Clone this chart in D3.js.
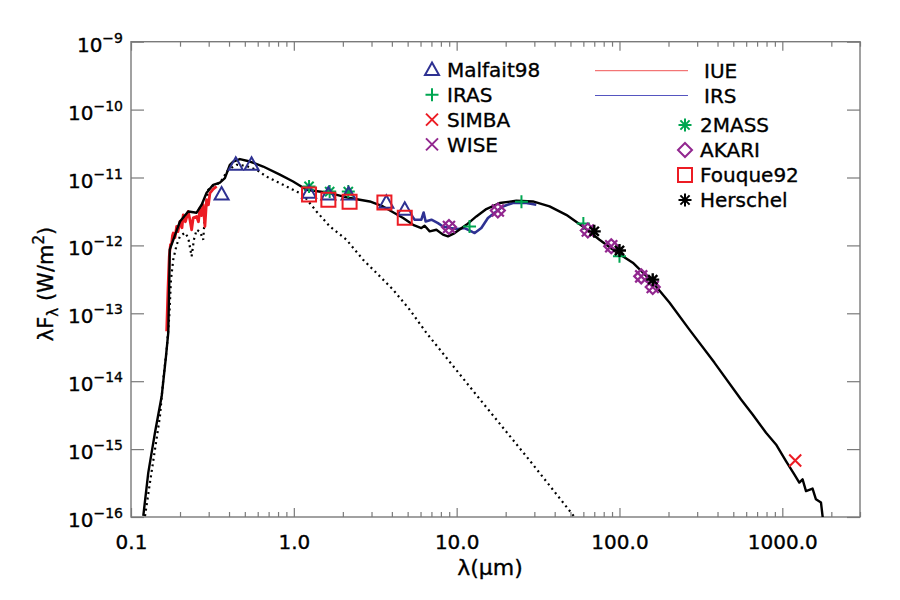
<!DOCTYPE html>
<html><head><meta charset="utf-8">
<script src="https://cdn.jsdelivr.net/npm/d3@7"></script>
<style>body{margin:0;background:#fff} svg{display:block} text{font-family:"DejaVu Sans",sans-serif;fill:#000;stroke:#000;stroke-width:0.35px}</style>
</head><body><svg id="c" width="900" height="600"></svg>
<script>
// ---- data ----
const modelWave = [0.119,0.1277,0.1404,0.1543,0.164,0.1694,0.1718,0.173,0.1998,0.2246,0.2529,0.2716,0.2913,0.3197,0.3516,0.3773,0.405,0.4242,0.4664,0.537,0.648,0.821,0.99,1.197,1.664,2.206,2.926,3.53,4.69,5.40,6.07,6.36,6.83,7.51,8.24,8.84,9.72,11.47,13.21,15.21,18.36,23.25,29.38,37.2,47.1,59.6,75.4,95.4,120.7,158.7,202.6,268.8,382.6,557.9,657.4,794.3,914.8,1053.6,1184.7,1271.4,1332,1398,1534,1609,1728,1767,1800];
const modelFlux = [1.04e-16,4.5e-16,1.76e-15,6.0e-15,2.33e-14,5.2e-14,2.82e-13,8.65e-13,2.25e-12,3.16e-12,3.03e-12,3.97e-12,5.96e-12,7.8e-12,8.43e-12,9.8e-12,1.54e-11,1.72e-11,1.87e-11,1.72e-11,1.45e-11,1.1e-11,8.73e-12,6.59e-12,5.9e-12,4.98e-12,4.44e-12,3.75e-12,2.53e-12,2.01e-12,1.8e-12,1.95e-12,1.61e-12,1.70e-12,1.44e-12,1.36e-12,1.52e-12,2.01e-12,2.67e-12,3.43e-12,4.21e-12,4.54e-12,4.44e-12,3.75e-12,2.82e-12,1.9e-12,1.21e-12,8.0e-13,5.57e-13,2.92e-13,1.44e-13,5.75e-14,1.88e-14,5.38e-15,3.24e-15,1.74e-15,1.17e-15,6.67e-16,4.25e-16,3.21e-16,3.58e-16,2.41e-16,2.62e-16,1.82e-16,1.63e-16,1.03e-16,6.6e-17];

const starWave = [0.1219,0.1308,0.1404,0.1506,0.1578,0.1656,0.1718,0.176,0.1817,0.1907,0.1998,0.2144,0.2246,0.2357,0.2434,0.2529,0.2651,0.2777,0.2844,0.298,0.323,0.3516,0.3953,0.445,0.5075,0.590,0.68,0.86,1.14,1.378,1.664,2.105,2.662,3.217,4.067,5.148,6.52,13.84,28.05,52.45];
const starFlux = [1.03e-16,3.24e-16,9.9e-16,3.05e-15,1.06e-14,2.92e-14,9.04e-14,3.13e-13,6.16e-13,1.02e-12,1.36e-12,1.54e-12,1.3e-12,6.9e-13,1.21e-12,1.70e-12,1.59e-12,1.21e-12,2.82e-12,6.59e-12,7.8e-12,8.27e-12,1.3e-11,1.54e-11,1.49e-11,1.3e-11,1.03e-11,7.8e-12,5.57e-12,3.16e-12,1.9e-12,1.21e-12,6.16e-13,3.93e-13,2.23e-13,1.13e-13,5.15e-14,5.47e-15,6.83e-16,1.03e-16];

const iueWave = [0.1656,0.1687,0.1718,0.1747,0.1777,0.1797,0.1817,0.1862,0.1907,0.1942,0.1998,0.2056,0.2094,0.216,0.2246,0.2301,0.2357,0.2411,0.2529,0.2595,0.2651,0.2707,0.2777,0.2844,0.2913,0.2989,0.3053,0.3197,0.3356];
const iueFlux = [5.43e-14,2.23e-13,6.89e-13,1.02e-12,1.08e-12,1.39e-12,1.52e-12,1.30e-12,1.9e-12,1.59e-12,2.25e-12,1.82e-12,2.82e-12,2.23e-12,3.16e-12,2.39e-12,1.70e-12,2.55e-12,2.67e-12,2.23e-12,3.55e-12,2.74e-12,3.97e-12,1.9e-12,4.7e-12,3.97e-12,5.9e-12,6.75e-12,7.38e-12];

const irsWave = [5.30,5.525,6.07,6.27,6.45,7.0,7.68,8.24,9.06,10.19,11.19,12.31,12.9,14.18,15.56,17.52,19.23,22.15,26.77,30.83];
const irsFlux = [2.74e-12,2.39e-12,2.39e-12,3.05e-12,2.25e-12,2.39e-12,2.13e-12,1.9e-12,1.8e-12,1.74e-12,1.8e-12,1.61e-12,1.52e-12,1.8e-12,2.53e-12,3.16e-12,3.75e-12,4.21e-12,4.21e-12,3.97e-12];

const malfaitWave = [0.36,0.44,0.55,1.24,1.63,2.17,3.7,4.8];
const malfaitFlux = [5.6e-12,1.54e-11,1.54e-11,5.96e-12,5.6e-12,5.6e-12,4.25e-12,3.35e-12];
const irasWave = [12,25,60,100];
const irasFlux = [1.9e-12,4.4e-12,2.1e-12,6.9e-13];
const simbaWave = [1200];
const simbaFlux = [6.8e-16];
const wiseWave = [8.97,17.9,63.9,89,136,160];
const wiseFlux = [1.87e-12,3.27e-12,1.66e-12,9.7e-13,3.5e-13,2.44e-13];
const akariWave = [8.97,17.9,63.9,89,136,160];
const akariFlux = [1.87e-12,3.27e-12,1.66e-12,9.7e-13,3.5e-13,2.44e-13];
const twomassWave = [1.24,1.66,2.16];
const twomassFlux = [7.4e-12,6.2e-12,6.2e-12];
const fouqueWave = [1.24,1.63,2.2,3.6,4.8];
const fouqueFlux = [5.6e-12,4.7e-12,4.4e-12,4.3e-12,2.55e-12];
const herschelWave = [70,100,160];
const herschelFlux = [1.61e-12,8.4e-13,3.13e-13];

const xMajorTicks = [0.1,1,10,100,1000];
const xTickLabels = ["0.1","1.0","10.0","100.0","1000.0"];
const yExponents = [-9,-10,-11,-12,-13,-14,-15,-16];
const legendLeft = ["Malfait98","IRAS","SIMBA","WISE"];
const legendLines = ["IUE","IRS"];
const legendRight = ["2MASS","AKARI","Fouque92","Herschel"];

// ---- styling ----
const C = {blue:"#2e3192", green:"#00a651", red:"#ec1c24", purple:"#92278f", black:"#000", axis:"#7a7a7a"};
const svg = d3.select("#c");
const L = 131, R = 860, T = 41.7, B = 517;
const x = d3.scaleLog().domain([0.1,3000]).range([L,R]);
const y = d3.scaleLog().domain([1e-16,1e-9]).range([B,T]);

svg.append("defs").append("clipPath").attr("id","clip")
  .append("rect").attr("x",L).attr("y",T).attr("width",R-L).attr("height",B-T);

// axes
const minor = [];
[0.1,1,10,100,1000].forEach(d=>{for(let k=2;k<=9;k++){const v=d*k; if(v<=3000) minor.push(v);}});
function styleAxis(g){g.select(".domain").remove(); g.selectAll("line").attr("stroke",C.axis).attr("stroke-width",1.2);}
svg.append("g").attr("transform",`translate(0,${B})`).call(d3.axisBottom(x).tickValues(xMajorTicks).tickSize(-9).tickPadding(18).tickFormat((d,i)=>xTickLabels[i])).call(styleAxis)
  .selectAll("text").attr("font-size",20).attr("fill","#000").attr("font-family","DejaVu Sans");
svg.append("g").attr("transform",`translate(0,${B})`).call(d3.axisBottom(x).tickValues(minor).tickSize(-5).tickFormat("")).call(styleAxis);
svg.append("g").attr("transform",`translate(0,${T})`).call(d3.axisTop(x).tickValues(xMajorTicks).tickSize(-9).tickFormat("")).call(styleAxis);
svg.append("g").attr("transform",`translate(0,${T})`).call(d3.axisTop(x).tickValues(minor).tickSize(-5).tickFormat("")).call(styleAxis);
const yTickVals = yExponents.map(e=>Math.pow(10,e));
svg.append("g").attr("transform",`translate(${L},0)`).call(d3.axisLeft(y).tickValues(yTickVals).tickSize(-13).tickFormat("")).call(styleAxis);
svg.append("g").attr("transform",`translate(${R},0)`).call(d3.axisRight(y).tickValues(yTickVals).tickSize(-13).tickFormat("")).call(styleAxis);
svg.append("rect").attr("x",L).attr("y",T).attr("width",R-L).attr("height",B-T)
  .attr("fill","none").attr("stroke",C.axis).attr("stroke-width",1.4);

// y tick labels
yExponents.forEach(e=>{
  const t = svg.append("text").attr("x",123).attr("y",y(Math.pow(10,e))+10).attr("text-anchor","end").attr("font-size",20);
  t.append("tspan").text("10");
  t.append("tspan").attr("dy",-9).attr("font-size",14).text("\u2212"+Math.abs(e));
});

// axis titles
svg.append("text").attr("x",490).attr("y",575).attr("text-anchor","middle").attr("font-size",22).text("\u03bb(\u03bcm)");
const yt = svg.append("text").attr("transform","translate(53,284) rotate(-90)").attr("text-anchor","middle").attr("font-size",21);
yt.append("tspan").text("\u03bbF");
yt.append("tspan").attr("dy",5).attr("font-size",15).text("\u03bb");
yt.append("tspan").attr("dy",-5).text(" (W/m");
yt.append("tspan").attr("dy",-9).attr("font-size",15).text("2");
yt.append("tspan").attr("dy",9).text(")");

// lines
const plot = svg.append("g").attr("clip-path","url(#clip)");
const line = d3.line().x(d=>x(d[0])).y(d=>y(d[1]));
const zip = (a,b)=>a.map((v,i)=>[v,b[i]]);
plot.append("path").datum(zip(starWave,starFlux)).attr("d",line).attr("fill","none")
  .attr("stroke","#000").attr("stroke-width",2.2).attr("stroke-dasharray","2,3.6");
plot.append("path").datum(zip(irsWave,irsFlux)).attr("d",line).attr("fill","none")
  .attr("stroke",C.blue).attr("stroke-width",2.6).attr("stroke-linejoin","round");
plot.append("path").datum(zip(iueWave,iueFlux)).attr("d",line).attr("fill","none")
  .attr("stroke",C.red).attr("stroke-width",2.8).attr("stroke-linejoin","round");
plot.append("path").datum(zip(modelWave,modelFlux)).attr("d",line).attr("fill","none")
  .attr("stroke","#000").attr("stroke-width",2.4).attr("stroke-linejoin","round");

// markers
const shapes = {
  tri: "M0,-7.5L7,5L-7,5Z",
  plus: "M-6.5,0H6.5M0,-6.5V6.5",
  cross: "M-6,-6L6,6M-6,6L6,-6",
  star: "M-6.5,0H6.5M0,-6.5V6.5M-4.6,-4.6L4.6,4.6M-4.6,4.6L4.6,-4.6",
  diamond: "M0,-7L7,0L0,7L-7,0Z",
  square: "M-7,-7H7V7H-7Z"
};
function drawPts(wave, flux, shape, color, sw){
  plot.append("g").selectAll("path").data(zip(wave,flux)).join("path")
    .attr("transform",d=>`translate(${x(d[0])},${y(d[1])})`)
    .attr("d",shapes[shape]).attr("fill","none").attr("stroke",color).attr("stroke-width",sw||2);
}
drawPts(twomassWave,twomassFlux,"star",C.green,2);
drawPts(malfaitWave,malfaitFlux,"tri",C.blue,2);
drawPts(fouqueWave,fouqueFlux,"square",C.red,2);
drawPts(irasWave,irasFlux,"plus",C.green,2);
drawPts(akariWave,akariFlux,"diamond",C.purple,2.2);
drawPts(wiseWave,wiseFlux,"cross",C.purple,2.2);
drawPts(herschelWave,herschelFlux,"star",C.black,2.4);
drawPts(simbaWave,simbaFlux,"cross",C.red,2);

// legend
const leftShapes = [["tri",C.blue],["plus",C.green],["cross",C.red],["cross",C.purple]];
legendLeft.forEach((n,i)=>{
  const cy = 70 + i*24.8;
  svg.append("path").attr("transform",`translate(432,${cy})`).attr("d",shapes[leftShapes[i][0]])
    .attr("fill","none").attr("stroke",leftShapes[i][1]).attr("stroke-width",2);
  svg.append("text").attr("x",447).attr("y",cy+7.3).attr("font-size",20).text(n);
});
const lineColors = ["#f05555","#5555c0"];
legendLines.forEach((n,i)=>{
  const cy = 70.7 + i*24.8;
  svg.append("line").attr("x1",595).attr("x2",688).attr("y1",cy).attr("y2",cy).attr("stroke",lineColors[i]).attr("stroke-width",1);
  svg.append("text").attr("x",704).attr("y",cy+7.3).attr("font-size",20).text(n);
});
const rightShapes = [["star",C.green],["diamond",C.purple],["square",C.red],["star",C.black]];
legendRight.forEach((n,i)=>{
  const cy = 125 + i*25;
  svg.append("path").attr("transform",`translate(685,${cy})`).attr("d",shapes[rightShapes[i][0]])
    .attr("fill","none").attr("stroke",rightShapes[i][1]).attr("stroke-width",2);
  svg.append("text").attr("x",700).attr("y",cy+7.3).attr("font-size",20).text(n);
});
</script></body></html>
